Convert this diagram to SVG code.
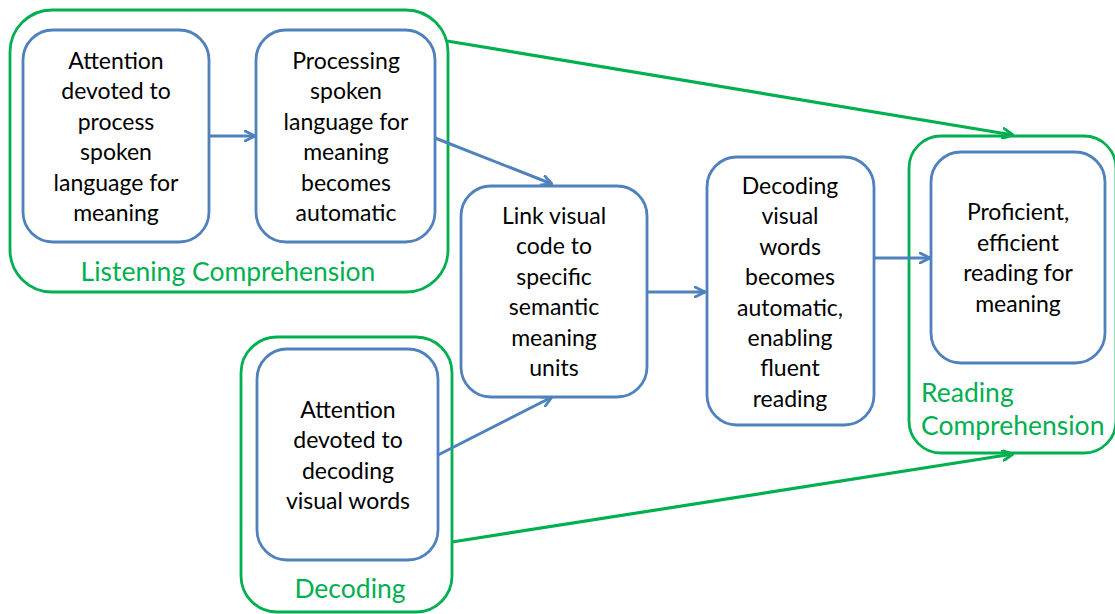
<svg xmlns="http://www.w3.org/2000/svg" width="1115" height="614" viewBox="0 0 1115 614">
<defs>
<marker id="ab" viewBox="0 0 12 12" refX="11" refY="6" markerWidth="12" markerHeight="12" markerUnits="userSpaceOnUse" orient="auto">
<path d="M1,1 L11,6 L1,11" fill="none" stroke="#4F81BD" stroke-width="2.8" stroke-linecap="round" stroke-linejoin="round"/>
</marker>
<marker id="ag" viewBox="0 0 12 12" refX="11" refY="6" markerWidth="12" markerHeight="12" markerUnits="userSpaceOnUse" orient="auto">
<path d="M1,1 L11,6 L1,11" fill="none" stroke="#00B050" stroke-width="2.8" stroke-linecap="round" stroke-linejoin="round"/>
</marker>
</defs>
<style>
.grp{fill:none;stroke:#00B050;stroke-width:2.8}
.box{fill:#fff;stroke:#4F81BD;stroke-width:2.8}
.t{font-family:Lato,"Liberation Sans",sans-serif;font-size:23px;fill:#000;text-anchor:middle}
.gl{font-family:Lato,"Liberation Sans",sans-serif;font-size:26.5px;fill:#00B050}
.cb{fill:none;stroke:#4F81BD;stroke-width:3;marker-end:url(#ab)}
.cg{fill:none;stroke:#00B050;stroke-width:3.2;marker-end:url(#ag)}
</style>
<rect width="1115" height="614" fill="#fff"/>

<g id="listening-comprehension">
<rect class="grp" x="10" y="10" width="438" height="282" rx="42"/>
<text class="gl" x="228" y="281" text-anchor="middle">Listening Comprehension</text>
</g>
<g id="decoding-group">
<rect class="grp" x="241" y="337" width="211" height="275" rx="36"/>
<text class="gl" x="350" y="598" text-anchor="middle">Decoding</text>
</g>
<g id="reading-comprehension">
<rect class="grp" x="909" y="136" width="207" height="317" rx="32"/>
<text class="gl" x="921" y="402">Reading</text>
<text class="gl" x="921" y="435">Comprehension</text>
</g>

<g id="connectors">
<line class="cb" x1="209" y1="136" x2="255" y2="136"/>
<line class="cb" x1="435" y1="138" x2="552" y2="184"/>
<line class="cb" x1="438" y1="455" x2="552" y2="397"/>
<line class="cb" x1="647" y1="292" x2="705" y2="292"/>
<line class="cb" x1="874" y1="258" x2="930" y2="258"/>
<line class="cg" x1="447" y1="41" x2="1013" y2="135"/>
<line class="cg" x1="452" y1="542" x2="1013" y2="454"/>
</g>

<g id="attention-spoken">
<rect class="box" x="23" y="30" width="186" height="212" rx="30"/>
<text class="t" x="116" y="69">Attention</text>
<text class="t" x="116" y="99">devoted to</text>
<text class="t" x="116" y="130">process</text>
<text class="t" x="116" y="160">spoken</text>
<text class="t" x="116" y="191">language for</text>
<text class="t" x="116" y="221">meaning</text>
</g>
<g id="processing-spoken">
<rect class="box" x="256" y="30" width="179" height="212" rx="30"/>
<text class="t" x="346" y="69">Processing</text>
<text class="t" x="346" y="99">spoken</text>
<text class="t" x="346" y="130">language for</text>
<text class="t" x="346" y="160">meaning</text>
<text class="t" x="346" y="191">becomes</text>
<text class="t" x="346" y="221">automatic</text>
</g>
<g id="attention-decoding">
<rect class="box" x="257" y="349" width="181" height="211" rx="30"/>
<text class="t" x="348" y="418">Attention</text>
<text class="t" x="348" y="448">devoted to</text>
<text class="t" x="348" y="479">decoding</text>
<text class="t" x="348" y="509">visual words</text>
</g>
<g id="link-visual">
<rect class="box" x="461" y="186" width="186" height="211" rx="30"/>
<text class="t" x="554" y="224">Link visual</text>
<text class="t" x="554" y="254">code to</text>
<text class="t" x="554" y="285">specific</text>
<text class="t" x="554" y="315">semantic</text>
<text class="t" x="554" y="346">meaning</text>
<text class="t" x="554" y="376">units</text>
</g>
<g id="decoding-automatic">
<rect class="box" x="707" y="157" width="167" height="268" rx="30"/>
<text class="t" x="790" y="194">Decoding</text>
<text class="t" x="790" y="224">visual</text>
<text class="t" x="790" y="255">words</text>
<text class="t" x="790" y="285">becomes</text>
<text class="t" x="790" y="316">automatic,</text>
<text class="t" x="790" y="346">enabling</text>
<text class="t" x="790" y="376">fluent</text>
<text class="t" x="790" y="407">reading</text>
</g>
<g id="proficient-reading">
<rect class="box" x="931" y="152" width="174" height="211" rx="30"/>
<text class="t" x="1018" y="220">Proficient,</text>
<text class="t" x="1018" y="251">efficient</text>
<text class="t" x="1018" y="281">reading for</text>
<text class="t" x="1018" y="312">meaning</text>
</g>
</svg>
